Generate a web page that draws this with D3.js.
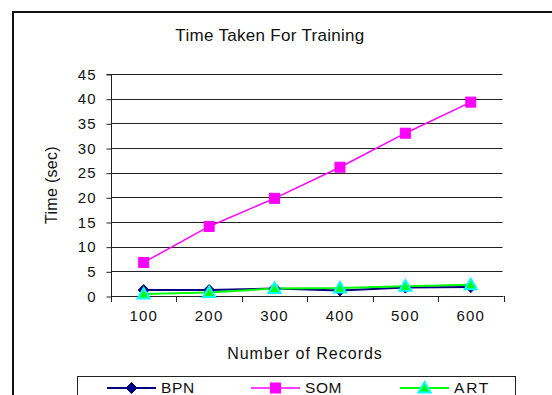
<!DOCTYPE html>
<html><head><meta charset="utf-8">
<script src="https://cdn.jsdelivr.net/npm/d3@7"></script>
<style>
html,body{margin:0;padding:0;background:#fff;}
svg{display:block;font-family:"Liberation Sans",Arial,sans-serif;}
</style></head>
<body>
<svg id="chart" width="552" height="395"></svg>
<script>
const categories = ["100","200","300","400","500","600"];
const bpn = [1.2, 1.2, 1.5, 1.1, 1.7, 1.8];
const som = [6.8, 14.1, 19.8, 26.1, 33.0, 39.3];
const art = [0.4, 0.7, 1.5, 1.6, 2.0, 2.3];
const yTicks = [0,5,10,15,20,25,30,35,40,45];
const seriesNames = ["BPN","SOM","ART"];

(function(){
const svg = d3.select("#chart");
const pLeft = 111, pRight = 503.5, pTop = 74, pBottom = 296;
const FONT = "'Liberation Sans',Arial,sans-serif";

// outer border
svg.append("rect").attr("x",13).attr("y",12).attr("width",560).attr("height",420)
  .attr("fill","none").attr("stroke","#111").attr("stroke-width",2);

const x = d3.scaleBand().domain(categories).range([pLeft,pRight]);
const y = d3.scaleLinear().domain([0,45]).range([pBottom,pTop]);

// gridlines
svg.append("g").selectAll("line").data(yTicks.filter(d=>d>0)).join("line")
  .attr("x1",pLeft).attr("x2",pRight-1).attr("y1",d=>Math.round(y(d))+0.5).attr("y2",d=>Math.round(y(d))+0.5)
  .attr("stroke","#222").attr("stroke-width",1);

// y axis
const yAxis = d3.axisLeft(y).tickValues(yTicks).tickSize(5).tickPadding(10);
const gy = svg.append("g").attr("transform",`translate(${pLeft+0.5},0.5)`).call(yAxis);
gy.select(".domain").attr("stroke","#222").attr("d",`M-5,${pTop}H0V${pBottom}`);
gy.selectAll(".tick line").attr("stroke","#222");
gy.selectAll("text").attr("font-size",15).attr("fill","#111").attr("letter-spacing",1)
  .attr("font-family",FONT);

// x axis
const xAxis = d3.axisBottom(x).tickSize(0).tickPadding(14);
const gx = svg.append("g").attr("transform",`translate(0,${pBottom+0.5})`).call(xAxis);
gx.select(".domain").attr("stroke","#222").attr("d",`M${pLeft},0H${pRight}`);
gx.selectAll("text").attr("font-size",15).attr("fill","#111").attr("letter-spacing",1.2)
  .attr("font-family",FONT);
const xb = [...categories.map(c=>x(c)), pRight];
svg.append("g").selectAll("line").data(xb).join("line")
  .attr("x1",d=>Math.round(d)+0.5).attr("x2",d=>Math.round(d)+0.5)
  .attr("y1",pBottom).attr("y2",pBottom+6).attr("stroke","#222");

const cx = c => x(c) + x.bandwidth()/2;
const line = d3.line().x((d,i)=>cx(categories[i])).y(d=>y(d));

const colors = {BPN:"#000080", SOM:"#FF00FF", ART:"#00FF00"};
const data = {BPN:bpn, SOM:som, ART:art};

function drawMarker(g, name, px, py){
  if(name==="BPN"){
    g.append("path").attr("d",`M${px},${py-5.5}L${px+5.5},${py}L${px},${py+5.5}L${px-5.5},${py}Z`)
      .attr("fill","#000080").attr("stroke","#000080");
  } else if(name==="SOM"){
    g.append("rect").attr("x",px-5).attr("y",py-5).attr("width",10).attr("height",10)
      .attr("fill","#FF00FF").attr("stroke","#FF00FF");
  } else {
    g.append("path").attr("d",`M${px},${py-6}L${px+6},${py+4.5}L${px-6},${py+4.5}Z`)
      .attr("fill","#00FF00").attr("stroke","#00FFFF").attr("stroke-width",2);
  }
}

["SOM","BPN","ART"].forEach(name=>{
  const g = svg.append("g");
  g.append("path").datum(data[name]).attr("d",line).attr("fill","none")
    .attr("stroke",colors[name]).attr("stroke-width",name==="SOM"?1.5:2);
});
["SOM","BPN","ART"].forEach(name=>{
  const g = svg.append("g");
  data[name].forEach((v,i)=>drawMarker(g,name,cx(categories[i]),y(v)));
});

// title
svg.append("text").attr("x",270).attr("y",41).attr("text-anchor","middle")
  .attr("font-size",17).attr("letter-spacing",0.3).attr("fill","#111").text("Time Taken For Training");
// axis titles
svg.append("text").attr("x",305).attr("y",359).attr("text-anchor","middle")
  .attr("font-size",16).attr("letter-spacing",1).attr("fill","#111").text("Number of Records");
svg.append("text").attr("transform","translate(57,185) rotate(-90)").attr("text-anchor","middle")
  .attr("font-size",16).attr("letter-spacing",0.3).attr("fill","#111").text("Time (sec)");

// legend
svg.append("rect").attr("x",77.5).attr("y",376.5).attr("width",438).attr("height",40)
  .attr("fill","#fff").attr("stroke","#222").attr("stroke-width",1);
const legX = [107, 251, 400];
seriesNames.forEach((name,i)=>{
  const g = svg.append("g");
  const ly = 388;
  g.append("line").attr("x1",legX[i]).attr("x2",legX[i]+49).attr("y1",ly).attr("y2",ly)
    .attr("stroke",colors[name]).attr("stroke-width",name==="SOM"?1.5:2);
  drawMarker(g,name,legX[i]+24.5,ly);
  g.append("text").attr("x",legX[i]+54).attr("y",ly+5).attr("font-size",15.5)
    .attr("letter-spacing",name==="ART"?1.8:0.6).attr("fill","#111").text(name);
});
})();
</script>
</body></html>
